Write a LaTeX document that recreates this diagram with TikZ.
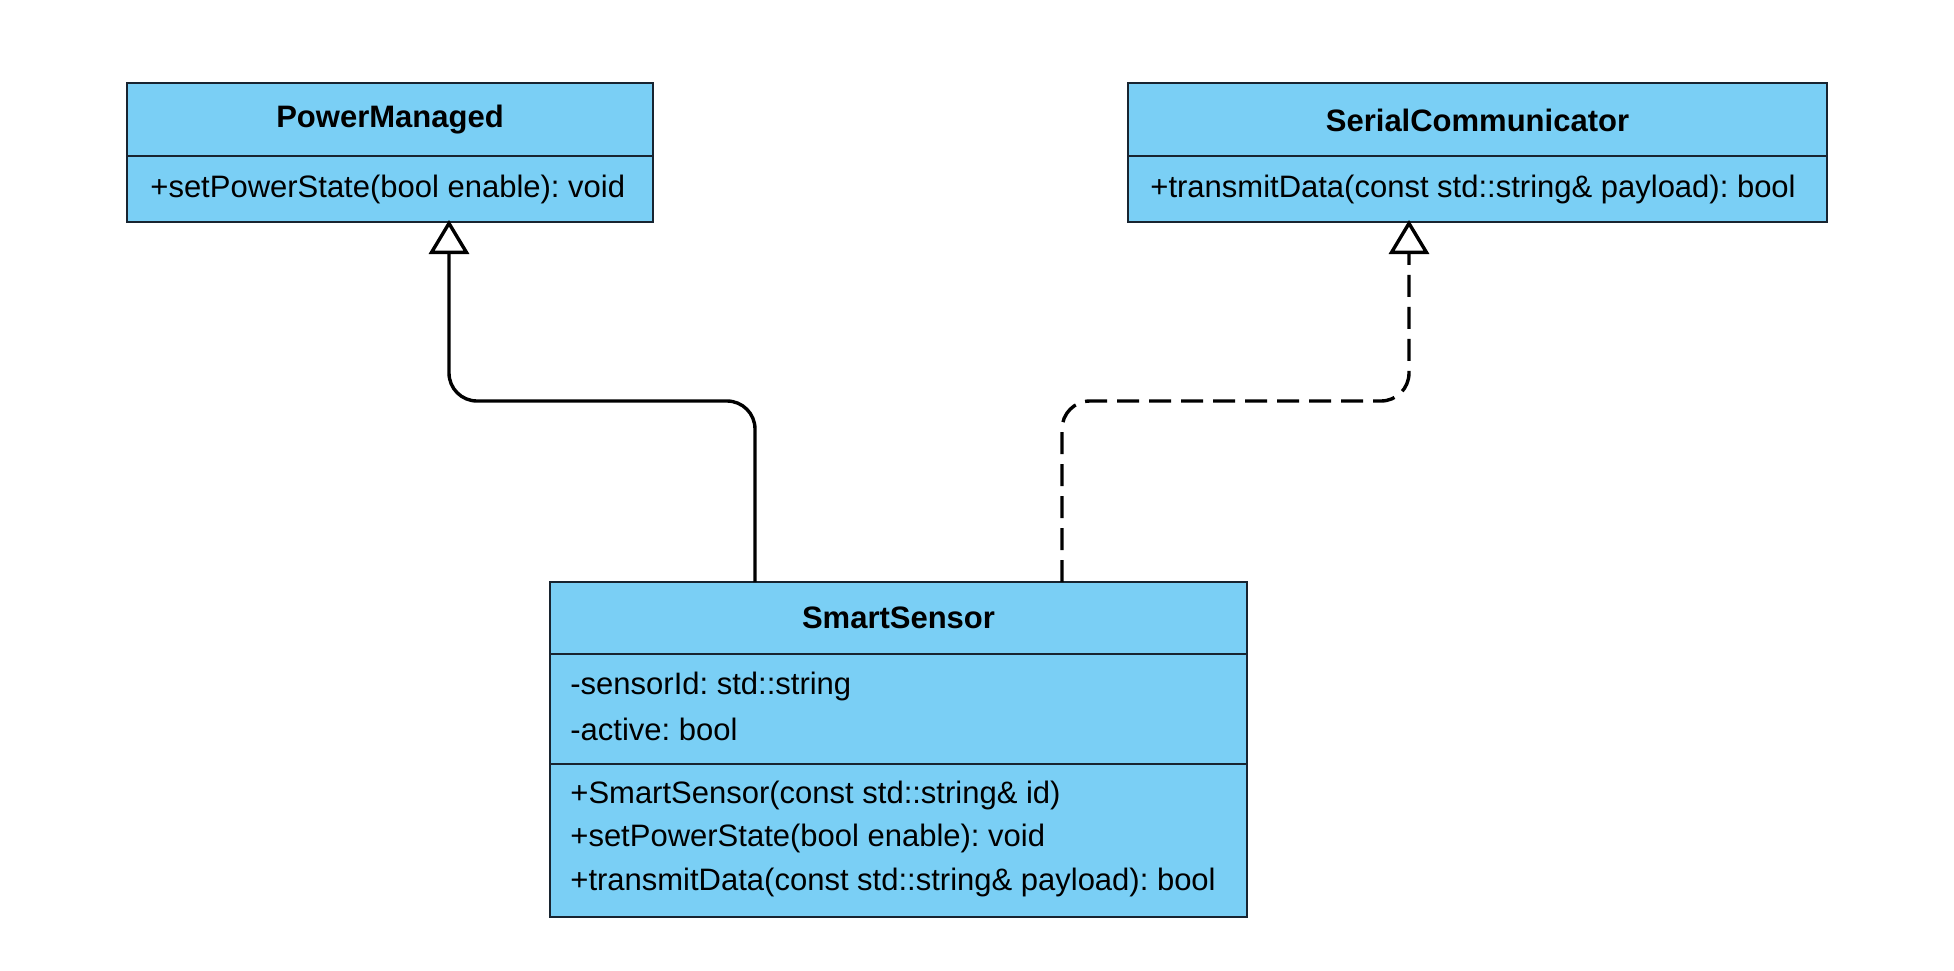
\documentclass[tikz,border=0pt]{standalone}
\usepackage{fontspec}
\setmainfont{Liberation Sans}
\usetikzlibrary{arrows.meta,calc}
\definecolor{classfill}{RGB}{122,207,245}
\definecolor{classline}{RGB}{24,36,48}
\tikzset{
  classbox/.style={draw=classline, fill=classfill, line width=1.25pt, rectangle, inner sep=0pt, outer sep=0pt, anchor=north west},
  divider/.style={draw=classline, line width=1.25pt},
  titletext/.style={font=\fontsize{15.5}{18}\selectfont\bfseries, inner sep=0pt},
  membertext/.style={font=\fontsize{15.5}{18}\selectfont, inner sep=0pt, anchor=west},
  conn/.style={draw=black, line width=1.7pt, rounded corners=14pt, -{Triangle[open, length=17pt, width=20pt]}},
  realize/.style={conn, dash pattern=on 11pt off 5pt},
}
\begin{document}
\frenchspacing
\begin{tikzpicture}[x=0.5pt, y=-0.5pt]
\useasboundingbox (0,0) rectangle (1954,970);
% PowerManaged
\node[classbox, minimum width=263pt, minimum height=69.5pt] (pm) at (127,83) {};
\draw[divider] (127,156) -- (653,156);
\node[titletext] (pmt) at (390,120) {PowerManaged};
\node[membertext] (pm1) at (150,189) {+setPowerState(bool enable): void};
% SerialCommunicator
\node[classbox, minimum width=349.5pt, minimum height=69.5pt] (sc) at (1128,83) {};
\draw[divider] (1128,156) -- (1827,156);
\node[titletext] (sct) at (1477.5,120) {SerialCommunicator};
\node[membertext] (sc1) at (1150,189) {+transmitData(const std::string\& payload): bool};
% SmartSensor
\node[classbox, minimum width=348.5pt, minimum height=167.5pt] (ss) at (550,582) {};
\draw[divider] (550,654) -- (1247,654);
\draw[divider] (550,764) -- (1247,764);
\node[titletext] (sst) at (898.5,618) {SmartSensor};
\node[membertext] (ss1) at (570,686) {-sensorId: std::string};
\node[membertext] (ss2) at (570,729) {-active: bool};
\node[membertext] (ss3) at (570,795) {+SmartSensor(const std::string\& id)};
\node[membertext] (ss4) at (570,838) {+setPowerState(bool enable): void};
\node[membertext] (ss5) at (570,882) {+transmitData(const std::string\& payload): bool};
% connectors
\coordinate (b1) at (755,401);
\coordinate (b2) at (1062,401);
\draw[conn] ($(ss.north west)+(205,0)$) -- (b1) -- (b1 -| 449,0) -- ($(pm.south west)+(322,-2)$);
\draw[realize] ($(ss.north west)+(512,0)$) -- (b2) -- (b2 -| 1409,0) -- ($(sc.south west)+(281,-2)$);
\end{tikzpicture}
\end{document}
